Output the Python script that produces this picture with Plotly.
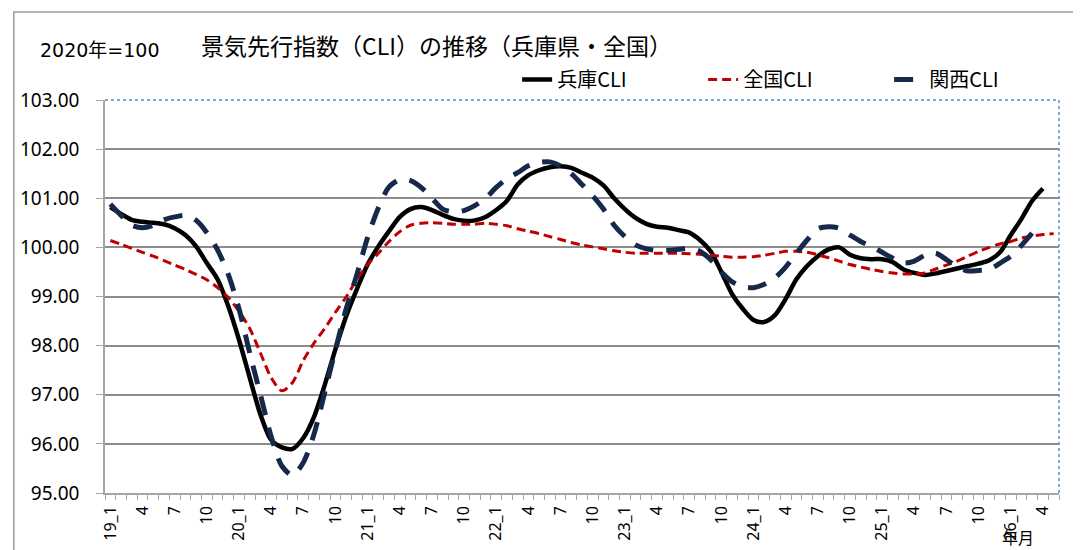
import plotly.graph_objects as go

# ---- data ----
years = ["19", "20", "21", "22", "23", "24", "25", "26"]
months = [f"{y}_{m}" for y in years for m in range(1, 13)][:89]   # 19_1 .. 26_5

hyogo = [100.82, 100.68, 100.56, 100.52, 100.50, 100.47, 100.39, 100.25, 100.02, 99.68,
         99.35, 98.80, 98.12, 97.35, 96.60, 96.08, 95.93, 95.90, 96.12, 96.55,
         97.20, 97.93, 98.60, 99.15, 99.65, 100.02, 100.33, 100.62, 100.78, 100.82,
         100.76, 100.66, 100.58, 100.54, 100.55, 100.62, 100.76, 100.95, 101.28, 101.47,
         101.57, 101.63, 101.65, 101.62, 101.52, 101.42, 101.26, 101.00, 100.78, 100.60,
         100.48, 100.42, 100.40, 100.35, 100.30, 100.15, 99.92, 99.50, 99.05, 98.75,
         98.52, 98.48, 98.62, 98.95, 99.35, 99.62, 99.82, 99.96, 100.00, 99.85,
         99.78, 99.76, 99.76, 99.70, 99.55, 99.48, 99.44, 99.47, 99.52, 99.57,
         99.62, 99.67, 99.74, 99.90, 100.25, 100.58, 100.95, 101.20]

zenkoku = [100.14, 100.06, 99.98, 99.90, 99.82, 99.73, 99.64, 99.55, 99.45, 99.34,
           99.18, 98.98, 98.70, 98.35, 97.85, 97.35, 97.08, 97.25, 97.70, 98.05,
           98.35, 98.68, 98.99, 99.35, 99.65, 99.88, 100.12, 100.32, 100.45, 100.49,
           100.50, 100.49, 100.47, 100.47, 100.47, 100.49, 100.47, 100.44, 100.38, 100.33,
           100.28, 100.22, 100.16, 100.10, 100.05, 100.01, 99.97, 99.93, 99.90, 99.88,
           99.88, 99.88, 99.88, 99.88, 99.87, 99.86, 99.84, 99.82, 99.80, 99.80,
           99.81, 99.84, 99.88, 99.92, 99.92, 99.90, 99.85, 99.79, 99.72, 99.65,
           99.60, 99.55, 99.51, 99.48, 99.46, 99.46, 99.48, 99.56, 99.64, 99.72,
           99.82, 99.92, 100.00, 100.07, 100.12, 100.19, 100.23, 100.26, 100.28]

kansai = [100.88, 100.65, 100.45, 100.40, 100.45, 100.56, 100.62, 100.65, 100.55, 100.30,
          99.95, 99.45, 98.75, 97.85, 97.00, 96.15, 95.55, 95.36, 95.62, 96.20,
          97.05, 97.92, 98.75, 99.45, 100.20, 100.80, 101.23, 101.38, 101.36, 101.22,
          101.00, 100.78, 100.72, 100.75, 100.85, 101.00, 101.22, 101.40, 101.52, 101.66,
          101.73, 101.74, 101.66, 101.50, 101.28, 101.05, 100.78, 100.45, 100.22, 100.05,
          99.97, 99.94, 99.94, 99.96, 99.98, 99.92, 99.75, 99.50, 99.30, 99.20,
          99.18, 99.25, 99.38, 99.60, 99.88, 100.15, 100.38, 100.42, 100.39, 100.25,
          100.12, 100.02, 99.90, 99.78, 99.68, 99.72, 99.84, 99.88, 99.75, 99.60,
          99.52, 99.53, 99.55, 99.68, 99.82, 100.04, 100.29]

tick_idx = list(range(0, len(months), 3))
tick_text = [months[i] if months[i].endswith("_1") else months[i].split("_")[1] for i in tick_idx]
y_ticks = [95, 96, 97, 98, 99, 100, 101, 102, 103]

NUMFONT = "'Noto Sans', 'Noto Sans CJK JP', sans-serif"
JFONT = "'Noto Sans CJK JP', sans-serif"

fig = go.Figure()
fig.add_trace(go.Scatter(
    x=list(range(len(hyogo))), y=hyogo, name="兵庫CLI", mode="lines",
    line=dict(color="#000000", width=4.5, shape="spline", smoothing=0.8)))
fig.add_trace(go.Scatter(
    x=list(range(len(zenkoku))), y=zenkoku, name="全国CLI", mode="lines",
    line=dict(color="#C00000", width=3, dash="9px,5px", shape="spline", smoothing=0.8)))
fig.add_trace(go.Scatter(
    x=list(range(len(kansai))), y=kansai, name="関西CLI", mode="lines",
    line=dict(color="#17294A", width=5, dash="19px,13px", shape="spline", smoothing=0.8)))

fig.update_layout(
    width=1081, height=550,
    margin=dict(l=89, r=30, t=92, b=65),
    paper_bgcolor="white", plot_bgcolor="white",
    font=dict(family=NUMFONT, size=17, color="#000000"),
    showlegend=True,
    legend=dict(orientation="h", x=0.432, y=1.052, xanchor="left", yanchor="middle",
                font=dict(family=JFONT, size=20), entrywidth=141, entrywidthmode="pixels",
                bgcolor="rgba(0,0,0,0)", tracegroupgap=0),
    xaxis=dict(
        range=[-0.5, len(months) - 0.5], tickmode="array", tickvals=tick_idx, ticktext=tick_text,
        tickangle=-90, ticks="", showgrid=False, zeroline=False,
        showline=True, linecolor="#A6A6A6", linewidth=1.5,
        ticklabelstandoff=5,
        tickfont=dict(family=NUMFONT, size=16),
        minor=dict(tickmode="linear", tick0=-0.5, dtick=1, ticks="outside", ticklen=5,
                   tickcolor="#A6A6A6", tickwidth=1, showgrid=False),
    ),
    yaxis=dict(
        range=[95, 103], tickmode="array", tickvals=y_ticks, tickformat=".2f",
        ticks="outside", ticklen=7, tickcolor="#A6A6A6",
        ticklabelstandoff=13,
        showgrid=True, gridcolor="#8C8C8C", gridwidth=1.5, zeroline=False,
        showline=True, linecolor="#A6A6A6", linewidth=1.5,
        tickfont=dict(family=NUMFONT, size=19),
    ),
    shapes=[
        # outer chart border
        dict(type="rect", xref="paper", yref="paper", x0=-0.0956, x1=1.2, y0=-0.5, y1=1.224,
             line=dict(color="#9A9A9A", width=1.5), layer="below"),
        # plot area dotted border (top/right)
        dict(type="line", xref="paper", yref="paper", x0=0, x1=1, y0=1, y1=1,
             line=dict(color="#5B8BD0", width=1.5, dash="dot"), layer="below"),
        dict(type="line", xref="paper", yref="paper", x0=1, x1=1, y0=0, y1=1,
             line=dict(color="#5B8BD0", width=1.5, dash="dot"), layer="below"),
    ],
    annotations=[
        dict(text="景気先行指数（CLI）の推移（兵庫県・全国）", xref="paper", yref="paper",
             x=0.348, y=1.14, xanchor="center", yanchor="middle", showarrow=False,
             font=dict(family=JFONT, size=23)),
        dict(text="2020年=100", xref="paper", yref="paper",
             x=-0.07, y=1.127, xanchor="left", yanchor="middle", showarrow=False,
             font=dict(family="'DejaVu Sans', 'Noto Sans CJK JP', sans-serif", size=19)),
        dict(text="年月", xref="paper", yref="paper",
             x=0.957, y=-0.113, xanchor="center", yanchor="middle", showarrow=False,
             font=dict(family=JFONT, size=16)),
    ],
)

fig.write_html("out.html")
